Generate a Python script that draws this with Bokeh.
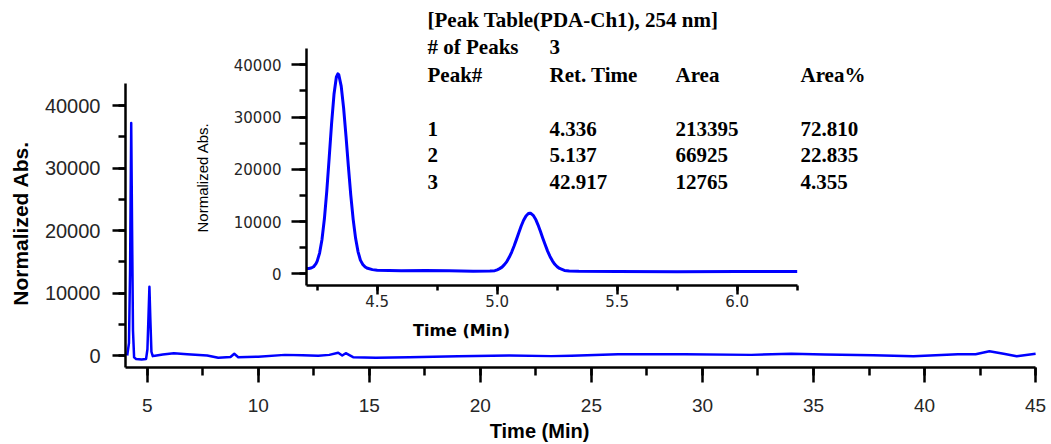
import math
from bokeh.plotting import figure
from bokeh.models import (Range1d, LinearAxis, SingleIntervalTicker, PrintfTickFormatter, Label)
from bokeh.embed import file_html
from bokeh.resources import INLINE

# ---------------- data ----------------
main_time = [4.10, 4.18, 4.23, 4.28, 4.32, 4.36, 4.41, 4.50, 4.75, 4.95, 5.01, 5.06, 5.10, 5.14,
             5.19, 5.25, 5.35, 5.70, 6.20, 6.80, 7.70, 8.20, 8.75, 8.92, 9.10, 10.0, 11.2, 12.0,
             12.7, 13.2, 13.6, 13.78, 13.94, 14.27, 15.3, 16.8, 19.0, 21.3, 23.2, 24.1, 26.2,
             29.2, 32.2, 34.0, 35.5, 37.7, 39.5, 41.5, 42.3, 42.92, 43.56, 44.15, 45.0]
main_abs = [0, 2000, 14000, 37200, 20000, 4000, -300, -550, -650, -550, 1000, 6500, 11000, 6000,
            600, -100, -50, 150, 370, 200, 0, -370, -250, 270, -270, -200, 100, 50,
            -50, 100, 430, 0, 370, -270, -370, -270, -110, 0, -100, -50, 210,
            210, 100, 270, 160, 50, -110, 210, 210, 690, 270, -110, 270]

inset_time = [4.205, 4.215, 4.225, 4.235, 4.245, 4.25, 4.26, 4.27, 4.28, 4.29, 4.30, 4.31, 4.32,
              4.33, 4.336, 4.34, 4.35, 4.36, 4.37, 4.38, 4.39, 4.40, 4.41, 4.42, 4.43, 4.44,
              4.45, 4.46, 4.48, 4.50, 4.60, 4.70, 4.80, 4.90, 4.97, 4.99, 5.00, 5.01, 5.02,
              5.03, 5.04, 5.05, 5.06, 5.07, 5.08, 5.09, 5.10, 5.11, 5.12, 5.13, 5.136, 5.14,
              5.15, 5.16, 5.17, 5.18, 5.19, 5.20, 5.21, 5.22, 5.23, 5.24, 5.25, 5.26, 5.28,
              5.30, 5.34, 5.50, 5.75, 6.00, 6.25]
inset_abs = [1000, 1020, 1100, 1350, 1940, 2425, 3970, 6580, 10530, 15870, 22240, 28800, 34360,
             37700, 38280, 38080, 35930, 31770, 26350, 20520, 15020, 10370, 6790, 4260, 2620, 1800,
             1300, 1050, 800, 680, 560, 640, 560, 500, 520, 600, 760, 990, 1280,
             1750, 2340, 3150, 4120, 5280, 6540, 7860, 9140, 10240, 11060, 11530, 11600, 11580,
             11190, 10450, 9370, 8150, 6820, 5540, 4340, 3320, 2480, 1820, 1355, 1020, 650,
             540, 470, 430, 410, 430, 450]

table_title = "[Peak Table(PDA-Ch1), 254 nm]"
n_peaks_label = "# of Peaks"
n_peaks = "3"
table_header = ["Peak#", "Ret. Time", "Area", "Area%"]
peak_no = ["1", "2", "3"]
ret_time = ["4.336", "5.137", "42.917"]
area = ["213395", "66925", "12765"]
area_pct = ["72.810", "22.835", "4.355"]

# ---------------- figure (frame = whole canvas, axes at fixed locations) ----------------
W, H = 1050, 444
BLUE = "#0000ff"
TICKC = "#262626"

# main scale: x=5 at px 146.7, 22.21 px/min ; y=0 at px 355, 6.25 px per 1000
MX0, MXS = 146.7, 22.21
MY0, MYS = 355.0, 6.25 / 1000.0
def mx(X):
    return 5.0 + (X - MX0) / MXS
def my(Y):
    return (MY0 - Y) / MYS

# inset scale: x=5.0 at px 496.7, 240 px/min ; y=0 at px 273.3, 5.225 px per 1000
IX0, IXS = 496.7, 240.0
IY0, IYS = 273.3, 5.225 / 1000.0
def ixv(X):
    return 5.0 + (X - IX0) / IXS
def iyv(Y):
    return (IY0 - Y) / IYS

p = figure(width=W, height=H, x_range=Range1d(mx(0), mx(W)), y_range=Range1d(my(H), my(0)),
           output_backend="svg", toolbar_location=None,
           x_axis_location=None, y_axis_location=None,
           min_border=0, min_border_left=0, min_border_right=0, min_border_top=0,
           min_border_bottom=0)
p.outline_line_color = None
p.grid.visible = False
p.background_fill_color = "white"
p.border_fill_color = "white"

p.extra_x_ranges = {"ix": Range1d(ixv(0), ixv(W))}
p.extra_y_ranges = {"iy": Range1d(iyv(H), iyv(0))}

def style(ax, font, size, tick_out, minor_out, standoff):
    ax.axis_line_width = 2.5
    ax.major_tick_line_width = 2.5
    ax.minor_tick_line_width = 2.5
    ax.major_tick_in = 0
    ax.minor_tick_in = 0
    ax.major_tick_out = tick_out
    ax.minor_tick_out = minor_out
    ax.major_label_text_font = font
    ax.major_label_text_font_size = size
    ax.major_label_text_color = TICKC
    ax.major_label_standoff = standoff

# main axes
xa = LinearAxis(fixed_location=my(367), bounds=(mx(125), 45.0),
                ticker=SingleIntervalTicker(interval=5, num_minor_ticks=2))
ya = LinearAxis(fixed_location=mx(125), bounds=(my(367), my(83)),
                ticker=SingleIntervalTicker(interval=10000, num_minor_ticks=2))
style(xa, "Liberation Sans", "19px", 15, 8, 16)
style(ya, "Liberation Sans", "20px", 13, 7, 12)
p.add_layout(xa, "below")
p.add_layout(ya, "left")

p.line(main_time, main_abs, line_color=BLUE, line_width=2.5, line_join="round")

# inset axes
iy = LinearAxis(x_range_name="ix", y_range_name="iy", fixed_location=ixv(306),
                bounds=(iyv(285), iyv(48)),
                ticker=SingleIntervalTicker(interval=10000, num_minor_ticks=2))
ix = LinearAxis(x_range_name="ix", y_range_name="iy", fixed_location=iyv(285),
                bounds=(ixv(306), 6.252),
                ticker=SingleIntervalTicker(interval=0.5, num_minor_ticks=2),
                formatter=PrintfTickFormatter(format="%.1f"))
style(iy, "DejaVu Sans", "15px", 15, 7, 10)
style(ix, "DejaVu Sans", "15px", 9, 5, 0)
p.add_layout(iy, "left")
p.add_layout(ix, "below")

p.line(inset_time, inset_abs, line_color=BLUE, line_width=3, line_join="round",
       x_range_name="ix", y_range_name="iy")

# ---------------- axis titles ----------------
def lab(txt, X, Y, font, size, bold=False, angle=0.0, align="center"):
    p.add_layout(Label(x=mx(X), y=my(Y), text=txt, angle=angle,
                       text_align=align, text_baseline="alphabetic",
                       text_font=font, text_font_style="bold" if bold else "normal",
                       text_font_size=size, text_color="black"))

lab("Normalized Abs.", 20, 223, "Liberation Sans", "21px", bold=True, angle=math.pi / 2)
lab("Time (Min)", 539, 430, "Liberation Sans", "20px", bold=True)
lab("Normalized Abs.", 202, 177, "Liberation Sans", "15px", angle=math.pi / 2)
lab("Time (Min)", 461, 330, "DejaVu Sans", "16px", bold=True)

# ---------------- peak table ----------------
cols = [427, 549, 675, 800]
def tlabel(txt, X, Y):
    lab(txt, X, Y, "Liberation Serif", "21px", bold=True, align="left")

tlabel(table_title, cols[0], 19)
tlabel(n_peaks_label, cols[0], 46)
tlabel(n_peaks, cols[1], 46)
for c, h in zip(cols, table_header):
    tlabel(h, c, 74)
for r, (a, b, c, d) in enumerate(zip(peak_no, ret_time, area, area_pct)):
    Y = [128, 154, 181][r]
    for X, t in zip(cols, (a, b, c, d)):
        tlabel(t, X, Y)

open("out.html", "w").write(file_html(p, INLINE))
